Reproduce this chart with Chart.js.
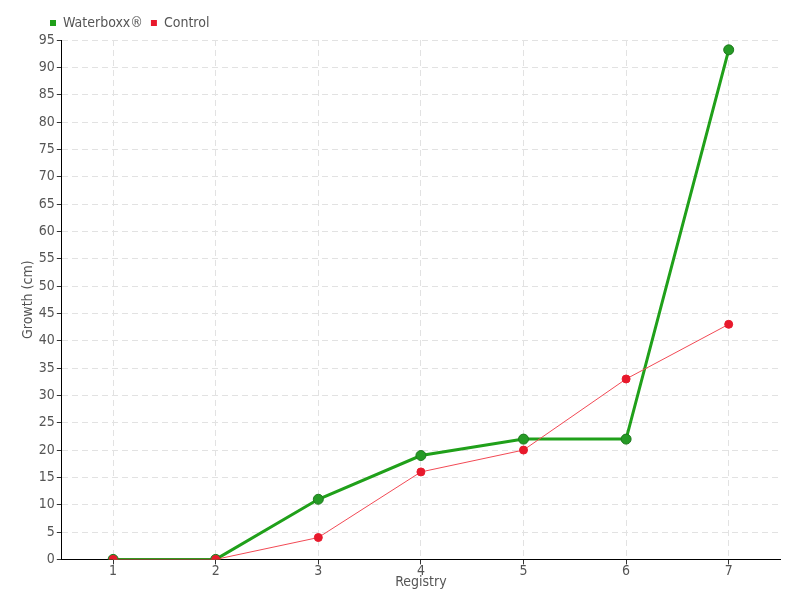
<!DOCTYPE html>
<html>
<head>
<meta charset="utf-8">
<script src="https://cdn.jsdelivr.net/npm/chart.js@4"></script>
<style>
  html, body { margin: 0; padding: 0; background: #fff; }
  #wrap { width: 800px; height: 600px; }
</style>
</head>
<body>
<div id="wrap"><canvas id="growthChart"></canvas></div>
<script>
const registry = ['1', '2', '3', '4', '5', '6', '7'];
const waterboxx = [0, 0, 11, 19, 22, 22, 93.2];
const control = [0, 0, 4, 16, 20, 33, 43];

const FONT = "'DejaVu Sans Condensed', 'Liberation Sans Narrow', sans-serif";
const TXT = '#555';

// push the legend over so it starts just left of the y axis, like the original
const legendShift = {
    id: 'legendShift',
    afterLayout(chart) {
        if (chart.legend) chart.legend.left = 42;
    }
};

document.addEventListener('DOMContentLoaded', () => {
    const ctx = document.getElementById('growthChart').getContext('2d');
    new Chart(ctx, {
        type: 'line',
        data: {
            labels: registry,
            datasets: [
                {
                    label: 'Waterboxx®',
                    data: waterboxx,
                    borderColor: '#20a01a',
                    backgroundColor: '#20a01a',
                    pointBackgroundColor: '#259a25',
                    pointBorderColor: '#1d7a1d',
                    borderWidth: 3,
                    pointRadius: 5,
                    pointBorderWidth: 1,
                    tension: 0,
                    order: 1
                },
                {
                    label: 'Control',
                    data: control,
                    borderColor: '#f24a55',
                    backgroundColor: '#e8192c',
                    pointBackgroundColor: '#e8192c',
                    pointBorderColor: '#e8192c',
                    borderWidth: 1,
                    pointRadius: 4,
                    tension: 0,
                    order: 0
                }
            ]
        },
        options: {
            responsive: true,
            maintainAspectRatio: false,
            animation: false,
            layout: { padding: { top: 8, right: 20, left: 20, bottom: 7 } },
            plugins: {
                legend: {
                    position: 'top',
                    align: 'start',
                    labels: {
                        boxWidth: 6,
                        boxHeight: 6,
                        padding: 8,
                        color: TXT,
                        font: { family: FONT, size: 14 },
                        generateLabels: chart => chart.data.datasets.map((ds, i) => ({
                            text: ds.label,
                            fillStyle: ds.backgroundColor,
                            strokeStyle: ds.backgroundColor,
                            lineWidth: 0,
                            datasetIndex: i,
                            fontColor: TXT
                        }))
                    }
                },
                tooltip: { enabled: false }
            },
            scales: {
                x: {
                    offset: true,
                    grid: {
                        offset: false,
                        color: '#e2e2e2',
                        tickColor: '#333',
                        tickLength: 5,
                        tickBorderDash: [],
                        lineWidth: 1
                    },
                    border: { color: '#000', width: 1, dash: [6, 4] },
                    ticks: { color: TXT, font: { family: FONT, size: 14 }, padding: -1 },
                    title: {
                        display: true,
                        text: 'Registry',
                        color: TXT,
                        font: { family: FONT, size: 14 },
                        padding: { top: -5, bottom: 2 }
                    }
                },
                y: {
                    min: 0,
                    max: 95,
                    grid: {
                        color: '#e2e2e2',
                        tickColor: '#333',
                        tickLength: 5,
                        tickBorderDash: [],
                        lineWidth: 1
                    },
                    border: { color: '#000', width: 1, dash: [6, 4] },
                    ticks: { stepSize: 5, color: TXT, font: { family: FONT, size: 14 }, padding: 2 },
                    title: {
                        display: true,
                        text: 'Growth (cm)',
                        color: TXT,
                        font: { family: FONT, size: 14 },
                        padding: { top: 0, bottom: 0 }
                    }
                }
            }
        },
        plugins: [legendShift]
    });
});
</script>
</body>
</html>
